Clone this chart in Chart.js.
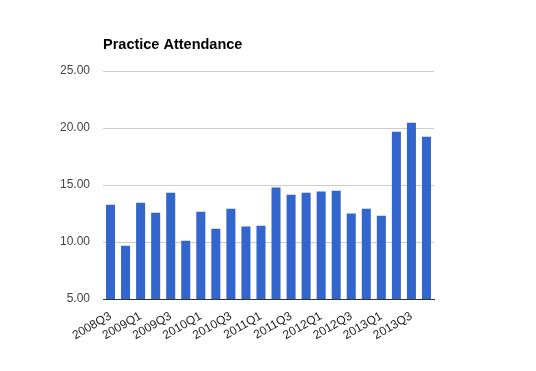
<!DOCTYPE html>
<html>
<head>
<meta charset="utf-8">
<script src="https://cdn.jsdelivr.net/npm/chart.js@4"></script>
<style>
  html, body { margin: 0; padding: 0; background: #fff; }
  #wrap { width: 536px; height: 371px; }
</style>
</head>
<body>
<div id="wrap"><canvas id="attendanceChart" width="536" height="371"></canvas></div>
<script>
// quarters shown on the x axis
var quarters = ['2008Q3', '2008Q4', '2009Q1', '2009Q2', '2009Q3', '2009Q4',
  '2010Q1', '2010Q2', '2010Q3', '2010Q4', '2011Q1', '2011Q2', '2011Q3', '2011Q4',
  '2012Q1', '2012Q2', '2012Q3', '2012Q4', '2013Q1', '2013Q2', '2013Q3', '2013Q4'];
// average attendance per quarter
var attendance = [13.27, 9.68, 13.45, 12.57, 14.33, 10.12, 12.66, 11.17, 12.92, 11.35,
  11.43, 14.77, 14.15, 14.33, 14.42, 14.50, 12.49, 12.92, 12.31, 19.68, 20.47, 19.24];
var yTicks = [5, 10, 15, 20, 25];
var chartTitle = 'Practice Attendance';

// draw the title left-aligned with the plot area, like the original
var titlePlugin = {
  id: 'leftTitle',
  afterDraw: function (chart) {
    var c = chart.ctx;
    c.save();
    c.font = 'bold 14.5px Arial, "Liberation Sans", sans-serif';
    c.fillStyle = '#000';
    c.textBaseline = 'middle';
    c.textAlign = 'left';
    c.fillText(chartTitle, chart.chartArea.left, 45);
    c.restore();
  }
};

var ctx = document.getElementById('attendanceChart').getContext('2d');
var attendanceChart = new Chart(ctx, {
  type: 'bar',
  data: {
    labels: quarters,
    datasets: [{
      label: chartTitle,
      data: attendance,
      backgroundColor: '#3366cc',
      barPercentage: 0.6,
      categoryPercentage: 1.0
    }]
  },
  options: {
    responsive: false,
    animation: false,
    layout: {
      padding: { left: 0, right: 102, top: 71, bottom: 0 }
    },
    scales: {
      x: {
        grid: { display: false },
        border: { display: true, color: '#333333', width: 1 },
        ticks: {
          autoSkip: false,
          minRotation: 30,
          maxRotation: 30,
          padding: 2,
          color: '#222222',
          font: { family: 'Arial, "Liberation Sans", sans-serif', size: 12 },
          callback: function (value, index) {
            return index % 2 === 0 ? quarters[index] : '';
          }
        },
        afterFit: function (scale) { scale.height = 72; }
      },
      y: {
        min: yTicks[0],
        max: yTicks[yTicks.length - 1],
        border: { display: false },
        grid: { color: '#cccccc', drawTicks: false },
        afterBuildTicks: function (scale) {
          scale.ticks = yTicks.map(function (v) { return { value: v }; });
        },
        ticks: {
          padding: 13,
          color: '#444444',
          font: { family: 'Arial, "Liberation Sans", sans-serif', size: 12 },
          callback: function (value) { return value.toFixed(2); }
        },
        afterFit: function (scale) { scale.width = 103; }
      }
    },
    plugins: {
      legend: { display: false },
      title: { display: false },
      tooltip: { enabled: false }
    }
  },
  plugins: [titlePlugin]
});
</script>
</body>
</html>
